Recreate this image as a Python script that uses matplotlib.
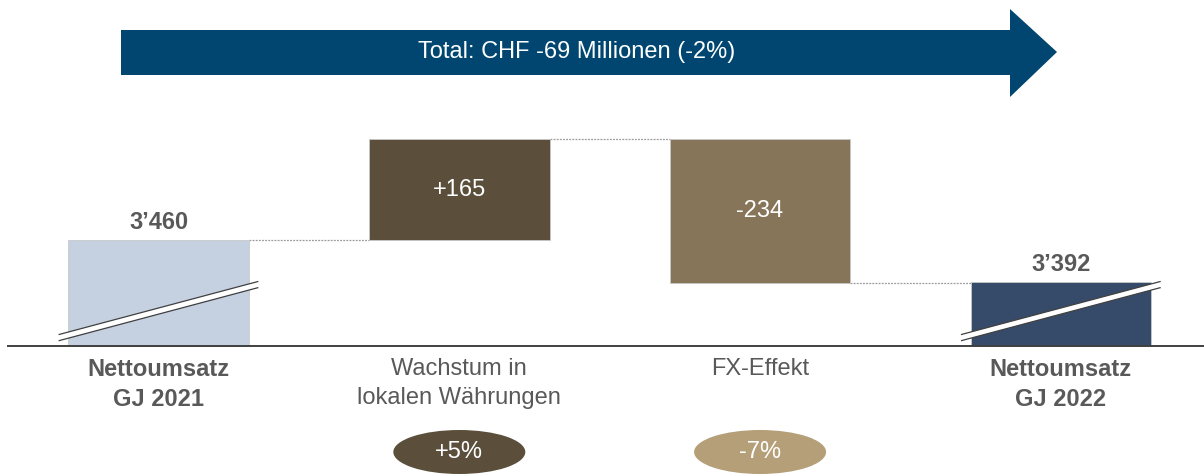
import matplotlib.pyplot as plt
from matplotlib.patches import Polygon, Ellipse

plt.rcParams['font.family'] = ['Liberation Sans', 'DejaVu Sans']

# data
categories = ['Nettoumsatz\nGJ 2021', 'Wachstum in\nlokalen Währungen', 'FX-Effekt', 'Nettoumsatz\nGJ 2022']
start_value = 3460
changes = [165, -234]
end_value = 3392
bar_labels = ['3’460', '+165', '-234', '3’392']
pct_labels = ['', '+5%', '-7%', '']
total_text = 'Total: CHF -69 Millionen (-2%)'

# colours
c_start = '#c5d0e1'
c_up = '#5b4f3c'
c_down = '#877559'
c_end = '#364b6a'
c_arrow = '#004670'
c_pct = ['', '#5b4f3c', '#b59f78', '']
c_text = '#595959'

axis_floor = 3288   # broken axis: bars start here
fs = 17

fig = plt.figure(figsize=(12.04, 4.74), dpi=100)
ax = fig.add_axes([0, 0, 1, 1])
ax.set_xlim(-0.527, 3.476)
ax.set_ylim(3080, 3851)
ax.axis('off')

# waterfall geometry
tops = [start_value]
bottoms = [axis_floor]
running = start_value
for ch in changes:
    new = running + ch
    bottoms.append(min(running, new))
    tops.append(max(running, new))
    running = new
bottoms.append(axis_floor)
tops.append(end_value)
colors = [c_start, c_up, c_down, c_end]
width = 0.6
xs = range(len(categories))

heights = [t - b for t, b in zip(tops, bottoms)]
ax.bar(xs, heights, bottom=bottoms, width=width, color=colors,
       edgecolor='#c8c8c8', linewidth=0.6, zorder=2)

# connectors
levels = [start_value, start_value + changes[0], start_value + changes[0] + changes[1]]
for i, lv in enumerate(levels):
    ax.plot([i + width / 2, i + 1 - width / 2], [lv, lv], color='#9a9a9a',
            linestyle=(0, (1.5, 1)), linewidth=0.9, zorder=1)

# baseline
ax.plot([-0.5, 3.476], [axis_floor, axis_floor], color='#404040', linewidth=1.4, zorder=3)

# axis break marks on the total bars
for i in (0, 3):
    xl, xr = i - 0.33, i + 0.33
    yl, yr = axis_floor + 14, axis_floor + 100
    gap = 10
    ax.add_patch(Polygon([(xl, yl - gap / 2), (xr, yr - gap / 2), (xr, yr + gap / 2), (xl, yl + gap / 2)],
                         closed=True, facecolor='white', edgecolor='none', zorder=4))
    for off in (-gap / 2, gap / 2):
        ax.plot([xl, xr], [yl + off, yr + off], color='#404040', linewidth=0.9, zorder=5)

# value labels
ax.text(0, tops[0] + 29, bar_labels[0], ha='center', va='center', fontsize=fs,
        fontweight='bold', color=c_text)
ax.text(3, tops[3] + 28, bar_labels[3], ha='center', va='center', fontsize=fs,
        fontweight='bold', color=c_text)
for i in (1, 2):
    ax.text(i, (tops[i] + bottoms[i]) / 2, bar_labels[i], ha='center', va='center',
            fontsize=fs, color='white')

# category labels
for i, cat in enumerate(categories):
    bold = i in (0, 3)
    ax.text(i, axis_floor - 19, cat, ha='center', va='top', fontsize=fs,
            fontweight='bold' if bold else 'normal', color=c_text, linespacing=1.4)

# overlay in pixel coords for the arrow and the ovals
ov = fig.add_axes([0, 0, 1, 1], facecolor='none')
ov.set_xlim(0, 1204)
ov.set_ylim(474, 0)
ov.axis('off')

ov.add_patch(Polygon([(121, 30), (1010, 30), (1010, 9), (1057, 52), (1010, 97),
                      (1010, 75), (121, 75)], closed=True, facecolor=c_arrow, edgecolor='none'))
ov.text(577, 52, total_text, ha='center', va='center', fontsize=fs, color='white')

for i in (1, 2):
    cx = 158.5 + 300.8 * i
    ov.add_patch(Ellipse((cx, 452), 132, 44, facecolor=c_pct[i], edgecolor='none'))
    ov.text(cx, 452, pct_labels[i], ha='center', va='center', fontsize=fs, color='white')

fig.savefig('out.png', dpi=100)
